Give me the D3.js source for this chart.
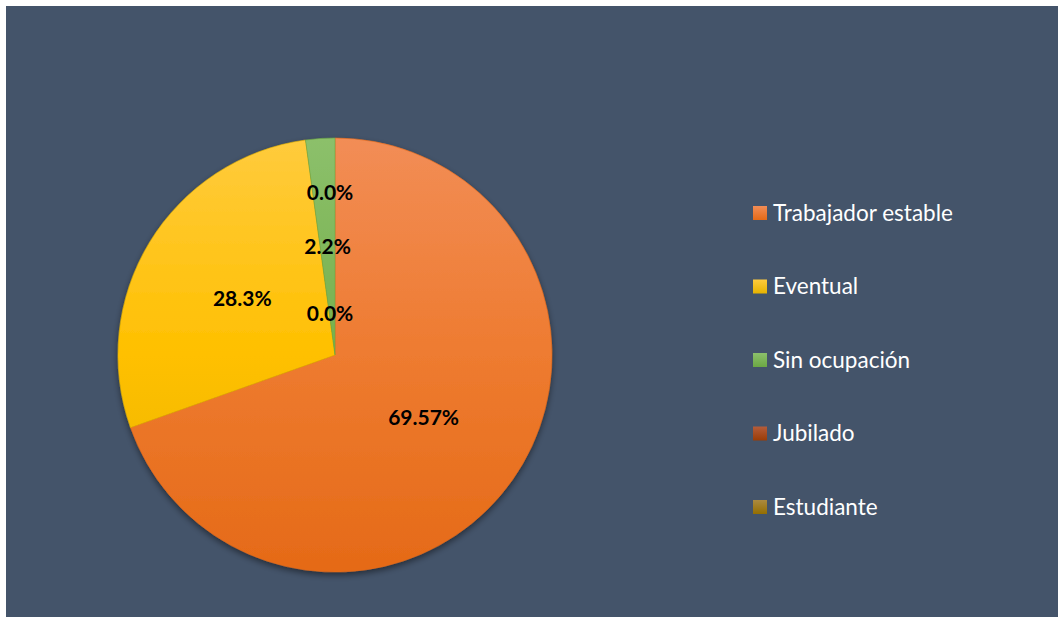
<!DOCTYPE html>
<html>
<head>
<meta charset="utf-8">
<script src="https://cdn.jsdelivr.net/npm/d3@7"></script>
<style>
    body { margin: 0; background: #ffffff; }
    svg { display: block; }
</style>
</head>
<body>
<div id="chart"></div>
<script>
// Data
var categories = ["Trabajador estable", "Eventual", "Sin ocupación", "Jubilado", "Estudiante"];
var values = [69.57, 28.26, 2.17, 0, 0];
var valueLabels = ["69.57%", "28.3%", "2.2%", "0.0%", "0.0%"];

function init() {
    var w = 1058;
    var h = 617;
    var cx = 335, cy = 355, radius = 217;

    // light / base / dark for each slice
    var colors = [
        ["#F28D56", "#EE7B30", "#E56A17"],
        ["#FFCB3D", "#FFC000", "#E6B300"],
        ["#8CC06B", "#76B04C", "#6CA844"],
        ["#B45C3A", "#A44A1E", "#9A3C06"],
        ["#AB8A40", "#9C7610", "#946E00"]
    ];

    var svg = d3.select("#chart")
        .append("svg")
        .attr("width", w)
        .attr("height", h);

    var defs = svg.append("defs");

    // drop shadow under the pie
    var shadow = defs.append("filter")
        .attr("id", "shadow")
        .attr("x", "-10%").attr("y", "-10%")
        .attr("width", "120%").attr("height", "120%");
    shadow.append("feDropShadow")
        .attr("dx", 0).attr("dy", 3)
        .attr("stdDeviation", 3)
        .attr("flood-color", "#000")
        .attr("flood-opacity", 0.45);

    // vertical gradients over the whole pie (group coords)
    colors.forEach((c, i) => {
        var g = defs.append("linearGradient")
            .attr("id", "grad" + i)
            .attr("gradientUnits", "userSpaceOnUse")
            .attr("x1", 0).attr("x2", 0)
            .attr("y1", -radius).attr("y2", radius);
        g.append("stop").attr("offset", "0%").attr("stop-color", c[0]);
        g.append("stop").attr("offset", "50%").attr("stop-color", c[1]);
        g.append("stop").attr("offset", "100%").attr("stop-color", c[2]);

        var lg = defs.append("linearGradient")
            .attr("id", "lgrad" + i)
            .attr("x1", 0).attr("x2", 0)
            .attr("y1", 0).attr("y2", 1);
        lg.append("stop").attr("offset", "0%").attr("stop-color", c[0]);
        lg.append("stop").attr("offset", "100%").attr("stop-color", c[2]);
    });

    // background panel
    svg.append("rect")
        .attr("x", 6)
        .attr("y", 6)
        .attr("width", w - 6)
        .attr("height", h - 6)
        .attr("fill", "#44546A");

    var pie = d3.pie()
        .sort(null)
        .value(d => d);

    var arcs = pie(values);

    var arc = d3.arc()
        .innerRadius(0)
        .outerRadius(radius);

    var g = svg.append("g")
        .attr("transform", `translate(${cx}, ${cy})`);

    var slices = g.append("g")
        .attr("filter", "url(#shadow)");

    slices.selectAll("path")
        .data(arcs)
        .enter()
        .append("path")
        .attr("d", arc)
        .attr("fill", (d, i) => "url(#grad" + i + ")")
        .attr("stroke", (d, i) => colors[i][2])
        .attr("stroke-width", d => d.value > 0 ? 0.6 : 0);

    // labels at half radius; colliding ones are pushed out, then in
    var labelArc = d3.arc()
        .innerRadius(radius * 0.5)
        .outerRadius(radius * 0.5);

    var placed = [];
    var bumped = 0;
    var labelPos = arcs.map(d => {
        var p = labelArc.centroid(d);
        var hit = placed.some(q => Math.abs(q[0] - p[0]) < 40 && Math.abs(q[1] - p[1]) < 20);
        if (hit) {
            var a = (d.startAngle + d.endAngle) / 2;
            var r = bumped === 0 ? radius * 0.75 : radius * 0.19;
            bumped++;
            p = [Math.sin(a) * r, -Math.cos(a) * r];
        }
        placed.push(p);
        return p;
    });

    g.selectAll("text.value")
        .data(arcs)
        .enter()
        .append("text")
        .attr("class", "value")
        .attr("x", (d, i) => labelPos[i][0] + (d.value === 0 ? -5 : 0))
        .attr("y", (d, i) => labelPos[i][1])
        .attr("dy", "0.35em")
        .attr("text-anchor", "middle")
        .attr("font-family", "Lato, 'Open Sans', sans-serif")
        .attr("font-weight", "bold")
        .attr("font-size", "21px")
        .attr("fill", "#000")
        .text((d, i) => valueLabels[i]);

    // legend
    var legend = svg.append("g")
        .attr("transform", "translate(753, 206)");

    var rows = legend.selectAll("g")
        .data(categories)
        .enter()
        .append("g")
        .attr("transform", (d, i) => `translate(0, ${i * 73.5})`);

    rows.append("rect")
        .attr("width", 14)
        .attr("height", 14)
        .attr("fill", (d, i) => "url(#lgrad" + i + ")");

    rows.append("text")
        .attr("x", 20)
        .attr("y", 7)
        .attr("dy", "0.35em")
        .attr("font-family", "Lato, 'Open Sans', sans-serif")
        .attr("font-size", "22.5px")
        .attr("fill", "#ffffff")
        .text(d => d);
}

window.onload = init;
</script>
</body>
</html>
